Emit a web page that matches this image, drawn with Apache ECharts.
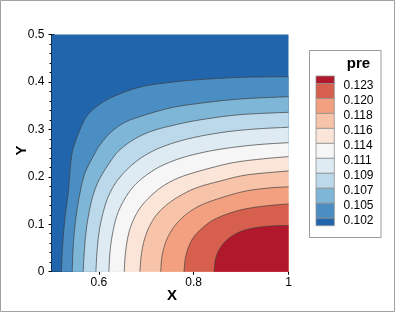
<!DOCTYPE html>
<html><head><meta charset="utf-8">
<script src="https://cdn.jsdelivr.net/npm/echarts@6/dist/echarts.min.js"></script>
<style>html,body{margin:0;padding:0;background:#fff}#c{width:395px;height:312px}</style>
</head><body><div id="c"></div>
<script>
// ---- data ----
const levels = [0.102, 0.105, 0.107, 0.109, 0.111, 0.114, 0.116, 0.118, 0.120, 0.123];
const bandColors = ['#2166ac','#4a8ec4','#7eb6d7','#bbd9ea','#deebf3','#f6f6f6','#fbe4d8','#f8c4a9','#f2a07f','#d6604d','#b2182b'];
const xTickLabels = [0.6, 0.8, 1];
const xMinorTicks = [0.55, 0.6, 0.65, 0.7, 0.75, 0.8, 0.85, 0.9, 0.95, 1];
const yTickLabels = [0, 0.1, 0.2, 0.3, 0.4, 0.5];
const xName = 'X', yName = 'Y', legendTitle = 'pre';

// contour lines [x, y], from bottom edge to right edge
const contour0102 = [[0.521,0],[0.5225,0.039],[0.5254,0.081],[0.5296,0.123],[0.5352,0.165],[0.538,0.200],[0.5423,0.243],[0.5493,0.271],[0.5599,0.299],[0.5739,0.327],[0.5951,0.348],[0.6303,0.369],[0.6866,0.389],[0.75,0.399],[0.8275,0.406],[0.912,0.410],[1,0.411]];
const contour0105 = [[0.5437,0],[0.5451,0.039],[0.5479,0.081],[0.5528,0.123],[0.5599,0.165],[0.5704,0.2075],[0.588,0.243],[0.6021,0.267],[0.6232,0.292],[0.6514,0.313],[0.6866,0.327],[0.75,0.345],[0.8134,0.355],[0.8979,0.364],[1,0.369]];
const contour0107 = [[0.5669,0],[0.569,0.039],[0.5725,0.081],[0.5789,0.123],[0.588,0.162],[0.6021,0.197],[0.6268,0.236],[0.6444,0.257],[0.6725,0.278],[0.7077,0.295],[0.75,0.307],[0.8134,0.320],[0.8979,0.331],[1,0.336]];
const contour0109 = [[0.5937,0],[0.5958,0.039],[0.6,0.081],[0.6077,0.120],[0.6197,0.158],[0.6373,0.190],[0.662,0.218],[0.6937,0.243],[0.7359,0.264],[0.7923,0.281],[0.8627,0.294],[0.9331,0.301],[1,0.3045]];
const contour0111 = [[0.6211,0],[0.6232,0.039],[0.6282,0.077],[0.6373,0.116],[0.6514,0.148],[0.6725,0.179],[0.7007,0.204],[0.7359,0.225],[0.7852,0.243],[0.8486,0.257],[0.9261,0.267],[1,0.272]];
const contour0114 = [[0.6535,0],[0.6556,0.035],[0.6613,0.074],[0.6711,0.1055],[0.6866,0.134],[0.7077,0.158],[0.7359,0.181],[0.7711,0.199],[0.8204,0.2145],[0.8838,0.230],[0.9472,0.238],[1,0.2426]];
const contour0116 = [[0.6866,0],[0.6894,0.035],[0.6958,0.067],[0.7063,0.095],[0.7218,0.120],[0.743,0.141],[0.7711,0.160],[0.8063,0.177],[0.8556,0.191],[0.912,0.204],[1,0.2124]];
const contour0118 = [[0.7303,0],[0.7331,0.032],[0.7401,0.060],[0.7514,0.084],[0.7676,0.1055],[0.7887,0.1245],[0.8169,0.141],[0.8556,0.155],[0.9049,0.169],[0.9542,0.176],[1,0.179]];
const contour0120 = [[0.7796,0],[0.7824,0.028],[0.7894,0.053],[0.8007,0.074],[0.8169,0.091],[0.838,0.107],[0.8662,0.120],[0.9049,0.1315],[0.9542,0.139],[1,0.1428]];
const contour0123 = [[0.843,0],[0.8458,0.025],[0.8535,0.046],[0.8662,0.063],[0.8838,0.077],[0.9085,0.088],[0.9401,0.094],[0.9754,0.097],[1,0.097]];
const contours = [contour0102, contour0105, contour0107, contour0109, contour0111, contour0114, contour0116, contour0118, contour0120, contour0123];

// ---- rendering ----
const FONT = "'Liberation Sans', Arial, Helvetica, sans-serif";
function spline(pts, steps) {
  const out = [];
  const n = pts.length;
  for (let i = 0; i < n - 1; i++) {
    const p0 = pts[Math.max(i - 1, 0)], p1 = pts[i], p2 = pts[i + 1], p3 = pts[Math.min(i + 2, n - 1)];
    for (let s = 0; s < steps; s++) {
      const t = s / steps, t2 = t * t, t3 = t2 * t;
      const f = (a, b, c, d) => 0.5 * (2 * b + (-a + c) * t + (2 * a - 5 * b + 4 * c - d) * t2 + (-a + 3 * b - 3 * c + d) * t3);
      out.push([f(p0[0], p1[0], p2[0], p3[0]), f(p0[1], p1[1], p2[1], p3[1])]);
    }
  }
  out.push(pts[n - 1]);
  return out;
}

const chart = echarts.init(document.getElementById('c'), null, {renderer: 'canvas'});

// legend + titles graphics
const legTop = 76, unit = 14.97, swX = 316, swW = 18.3;
const legendEls = [];
legendEls.push({type: 'rect', shape: {x: 309.5, y: 50.5, width: 71.5, height: 187}, style: {fill: '#fff', stroke: '#9a9a9a', lineWidth: 1}});
legendEls.push({type: 'text', x: 358.5, y: 63.5, style: {text: legendTitle, fontSize: 15, fontWeight: 'bold', fontFamily: FONT, fill: '#000', align: 'center', verticalAlign: 'middle'}});
for (let k = 0; k < bandColors.length; k++) {
  const colorIdx = bandColors.length - 1 - k;
  let y0, y1;
  if (k === 0) { y0 = legTop; y1 = legTop + unit / 2; }
  else if (k === bandColors.length - 1) { y0 = legTop + unit / 2 + (k - 1) * unit; y1 = y0 + unit / 2; }
  else { y0 = legTop + unit / 2 + (k - 1) * unit; y1 = y0 + unit; }
  legendEls.push({type: 'rect', shape: {x: swX, y: y0, width: swW, height: y1 - y0}, style: {fill: bandColors[colorIdx], stroke: '#8f8f8f', lineWidth: 0.8}});
}
for (let j = 0; j < levels.length; j++) {
  const lv = levels[levels.length - 1 - j];
  const yb = legTop + unit / 2 + j * unit;
  legendEls.push({type: 'text', x: 343.5, y: yb + 2.5, style: {text: lv.toFixed(3), fontSize: 12, fontFamily: FONT, fill: '#000', align: 'left', verticalAlign: 'middle'}});
}
legendEls.push({type: 'text', x: 172, y: 295.5, style: {text: xName, fontSize: 15, fontWeight: 'bold', fontFamily: FONT, fill: '#000', align: 'center', verticalAlign: 'middle'}});
legendEls.push({type: 'text', x: 22, y: 150.5, rotation: Math.PI / 2, style: {text: yName, fontSize: 15, fontWeight: 'bold', fontFamily: FONT, fill: '#000', align: 'center', verticalAlign: 'middle'}});
legendEls.push({type: 'rect', shape: {x: 0.5, y: 0.5, width: 394, height: 311}, style: {fill: 'none', stroke: '#a0a0a0', lineWidth: 1}});

const axisCommon = {axisLine: {onZero: false, lineStyle: {color: '#000', width: 1}}, splitLine: {show: false}};

chart.setOption({
  backgroundColor: '#fff',
  animation: false,
  grid: {left: 51.5, top: 34.5, width: 237, height: 237.2, containLabel: false, outerBoundsMode: 'none'},
  xAxis: [
    Object.assign({}, axisCommon, {
      type: 'value', min: 0.5, max: 1, position: 'bottom',
      axisTick: {show: true, length: 3, customValues: xTickLabels, lineStyle: {color: '#000'}},
      axisLabel: {customValues: xTickLabels, color: '#000', fontSize: 12, margin: 5, fontFamily: FONT}
    }),
    Object.assign({}, axisCommon, {
      type: 'value', min: 0.5, max: 1, position: 'bottom',
      axisLine: {show: false, onZero: false},
      axisTick: {show: true, inside: true, length: 3, customValues: xMinorTicks, lineStyle: {color: '#000'}},
      axisLabel: {show: false}
    })
  ],
  yAxis: [
    Object.assign({}, axisCommon, {
      type: 'value', min: 0, max: 0.5, interval: 0.1, position: 'left',
      axisTick: {show: true, length: 3, lineStyle: {color: '#000'}},
      minorTick: {show: true, splitNumber: 5, length: 2, lineStyle: {color: '#000'}},
      axisLabel: {color: '#000', fontSize: 12, margin: 7, fontFamily: FONT, customValues: yTickLabels, formatter: v => String(+v.toFixed(1))}
    }),
    Object.assign({}, axisCommon, {
      type: 'value', min: 0, max: 0.5, interval: 0.1, position: 'left',
      axisLine: {show: false, onZero: false},
      axisTick: {show: true, inside: true, length: 3, lineStyle: {color: '#000'}},
      minorTick: {show: true, splitNumber: 5, length: 2, lineStyle: {color: '#000'}},
      axisLabel: {show: false}
    })
  ],
  series: [{
    type: 'custom',
    coordinateSystem: 'cartesian2d',
    xAxisIndex: 0, yAxisIndex: 0,
    silent: true,
    z: 1,
    data: bandColors.map((c, i) => [i]),
    renderItem: function (params, api) {
      const i = params.dataIndex;
      const bl = api.coord([0.5, 0]), tl = api.coord([0.5, 0.5]), tr = api.coord([1, 0.5]), br = api.coord([1, 0]);
      if (i === 0) {
        return {type: 'polygon', shape: {points: [bl, tl, tr, br]}, style: {fill: bandColors[0]}};
      }
      const raw = contours[i - 1].map(p => api.coord(p));
      const curve = spline(raw, 12).map(p => [Math.min(Math.max(p[0], bl[0]), br[0]), Math.min(Math.max(p[1], tr[1]), br[1])]);
      return {
        type: 'group',
        children: [
          {type: 'polygon', shape: {points: curve.concat([br])}, style: {fill: bandColors[i]}},
          {type: 'polyline', shape: {points: curve}, style: {stroke: '#3c3c3c', lineWidth: 0.7, fill: null}}
        ]
      };
    }
  }],
  graphic: {elements: legendEls}
});
</script></body></html>
